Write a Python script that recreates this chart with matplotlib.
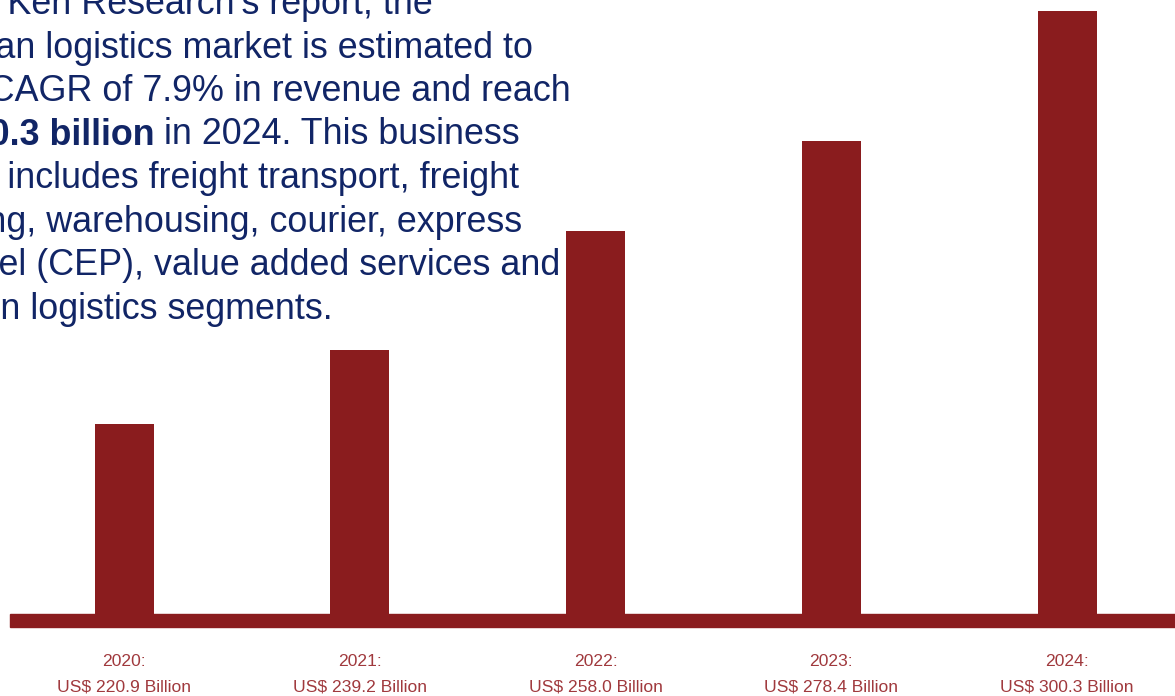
import matplotlib
matplotlib.use("Agg")
import matplotlib.pyplot as plt

# datos del gráfico (alturas visuales leídas de la imagen, no proporcionales)
years = ["2020", "2021", "2022", "2023", "2024"]
values = [220.9, 239.2, 258.0, 278.4, 300.3]
bar_heights = [190, 264, 383, 473, 603]

# texto del párrafo (recortado por el borde izquierdo en el original)
para_lines = [
    "As per Ken Research's report, the",
    "Indonesian logistics market is estimated to",
    "grow at a CAGR of 7.9% in revenue and reach",
    None,  # línea con negrita, se dibuja aparte
    "segment includes freight transport, freight",
    "forwarding, warehousing, courier, express",
    "and parcel (CEP), value added services and",
    "cold chain logistics segments.",
]
bold_part = "US$ 300.3 billion"
bold_rest = " in 2024. This business"
line_right = [433, 533, 571, 520, 519, 522, 560, 333]

RED = "#8A1C1E"
LABEL_RED = "#A0393D"
NAVY = "#112566"
W, H = 1175, 696

fig = plt.figure(figsize=(W / 100, H / 100), dpi=100)
ax = fig.add_axes([0, 0, 1, 1])
ax.set_xlim(-0.527, 4.458)
ax.set_ylim(-82, 614)
ax.axis("off")

x = list(range(len(years)))
ax.bar(x, bar_heights, width=0.25, color=RED, edgecolor="none", zorder=2)
ax.axhspan(-13, 0, xmin=10 / W, xmax=1, color=RED, zorder=2)

for i, (yr, v) in enumerate(zip(years, values)):
    ax.text(i, -48, f"{yr}:", ha="center", va="center", color=LABEL_RED,
            fontsize=12.6, family="Liberation Sans")
    ax.text(i, -73, f"US$ {v:.1f} Billion", ha="center", va="center",
            color=LABEL_RED, fontsize=12.6, family="Liberation Sans")


def fx(px):
    return px / W


def fy(py):
    return 1 - py / H


fs = 25.8
for k, txt in enumerate(para_lines):
    base = 14 + 43.5 * k
    if txt is None:
        t = fig.text(fx(line_right[k]), fy(base), bold_rest, ha="right",
                     va="baseline", color=NAVY, fontsize=fs,
                     family="Liberation Sans")
        fig.canvas.draw()
        bb = t.get_window_extent(renderer=fig.canvas.get_renderer())
        fig.text(bb.x0 / W, fy(base), bold_part, ha="right", va="baseline",
                 color=NAVY, fontsize=fs, fontweight="bold",
                 family="Liberation Sans")
    else:
        fig.text(fx(line_right[k]), fy(base), txt, ha="right", va="baseline",
                 color=NAVY, fontsize=fs, family="Liberation Sans")

fig.savefig("out.png", dpi=100, facecolor="white")
